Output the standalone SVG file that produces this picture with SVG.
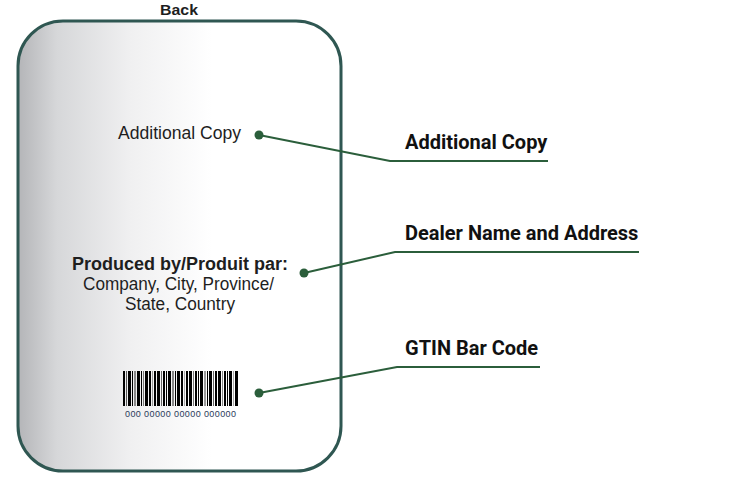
<svg xmlns="http://www.w3.org/2000/svg" width="737" height="486" viewBox="0 0 737 486">
<style>
.card-t{font-family:"Liberation Sans",Arial,sans-serif;fill:#1e1e1e;text-anchor:middle}
.lbl{font-family:Roboto,"Liberation Sans",sans-serif;font-weight:700;font-size:20px;fill:#111}
.lead{fill:none;stroke:#2b5e3b;stroke-width:2}
.dot{fill:#2b5e3b}
</style>
<defs>
<linearGradient id="g" gradientUnits="userSpaceOnUse" x1="18" y1="0" x2="341" y2="0">
<stop offset="0" stop-color="#b4b5b8"/>
<stop offset="0.12" stop-color="#d6d7d9"/>
<stop offset="0.35" stop-color="#f0f0f1"/>
<stop offset="0.6" stop-color="#ffffff"/>
</linearGradient>
</defs>
<rect width="737" height="486" fill="#fff"/>
<text x="179" y="15" class="card-t" style="font-weight:700;font-size:15px" textLength="38" lengthAdjust="spacingAndGlyphs">Back</text>
<g id="card">
<rect x="18" y="21" width="323" height="450" rx="45" ry="45" fill="url(#g)" stroke="#2f5752" stroke-width="3"/>
<text x="179.5" y="139" class="card-t" style="font-size:17.5px" textLength="123" lengthAdjust="spacingAndGlyphs">Additional Copy</text>
<text x="180" y="270" class="card-t" style="font-size:17.5px;font-weight:700" textLength="216" lengthAdjust="spacingAndGlyphs">Produced by/Produit par:</text>
<text x="178.5" y="290" class="card-t" style="font-size:17.5px" textLength="191" lengthAdjust="spacingAndGlyphs">Company, City, Province/</text>
<text x="180" y="310" class="card-t" style="font-size:17.5px" textLength="110" lengthAdjust="spacingAndGlyphs">State, Country</text>
</g>
<g id="barcode">
<g fill="#000">
<rect x="123" y="371" width="2" height="35"/>
<rect x="126" y="371" width="1" height="35" fill="#555"/>
<rect x="128" y="371" width="3" height="35"/>
<rect x="132" y="371" width="1" height="35"/>
<rect x="134" y="371" width="2" height="35" fill="#888"/>
<rect x="137" y="371" width="3" height="35"/>
<rect x="141" y="371" width="1" height="35"/>
<rect x="143" y="371" width="1" height="35" fill="#777"/>
<rect x="145" y="371" width="3" height="35"/>
<rect x="149" y="371" width="2" height="35"/>
<rect x="152" y="371" width="1" height="35" fill="#999"/>
<rect x="154" y="371" width="2" height="35"/>
<rect x="157" y="371" width="3" height="35"/>
<rect x="161" y="371" width="1" height="35" fill="#666"/>
<rect x="163" y="371" width="2" height="35"/>
<rect x="166" y="371" width="1" height="35"/>
<rect x="168" y="371" width="3" height="35"/>
<rect x="172" y="371" width="2" height="35" fill="#888"/>
<rect x="175" y="371" width="1" height="35"/>
<rect x="177" y="371" width="3" height="35"/>
<rect x="181" y="371" width="2" height="35"/>
<rect x="184" y="371" width="1" height="35" fill="#aaa"/>
<rect x="186" y="371" width="2" height="35"/>
<rect x="189" y="371" width="3" height="35"/>
<rect x="193" y="371" width="1" height="35" fill="#777"/>
<rect x="195" y="371" width="2" height="35"/>
<rect x="198" y="371" width="1" height="35"/>
<rect x="200" y="371" width="3" height="35"/>
<rect x="204" y="371" width="2" height="35" fill="#999"/>
<rect x="207" y="371" width="1" height="35"/>
<rect x="209" y="371" width="3" height="35"/>
<rect x="213" y="371" width="1" height="35" fill="#666"/>
<rect x="215" y="371" width="2" height="35"/>
<rect x="218" y="371" width="3" height="35"/>
<rect x="222" y="371" width="1" height="35" fill="#888"/>
<rect x="224" y="371" width="2" height="35"/>
<rect x="227" y="371" width="1" height="35"/>
<rect x="229" y="371" width="3" height="35"/>
<rect x="233" y="371" width="1" height="35" fill="#aaa"/>
<rect x="235" y="371" width="3" height="35"/>
</g>
<text x="180.5" y="417" class="card-t" style="font-size:9px;fill:#2a3a5a" textLength="111" lengthAdjust="spacing">000 00000 00000 000000</text>
</g>
<g id="connectors">
<polyline class="lead" points="259,135 390,161 548,161"/>
<circle class="dot" cx="259" cy="135" r="4.5"/>
<polyline class="lead" points="304,273 395,252 639,252"/>
<circle class="dot" cx="304" cy="273" r="4.5"/>
<polyline class="lead" points="259,393 397,367 540,367"/>
<circle class="dot" cx="259" cy="393" r="4.5"/>
</g>
<g id="label-additional-copy"><text x="405" y="149" class="lbl">Additional Copy</text></g>
<g id="label-dealer"><text x="405" y="240" class="lbl">Dealer Name and Address</text></g>
<g id="label-gtin"><text x="405" y="355" class="lbl">GTIN Bar Code</text></g>
</svg>
